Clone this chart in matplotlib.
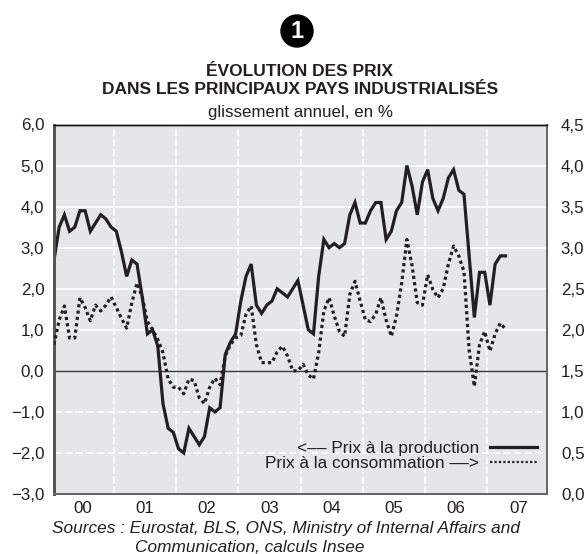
import numpy as np
import matplotlib
matplotlib.use('Agg')
import matplotlib.pyplot as plt
from matplotlib.lines import Line2D
from matplotlib.patches import Circle
from matplotlib.transforms import IdentityTransform

plt.rcParams['font.family'] = ['Liberation Sans', 'DejaVu Sans']

# monthly from jan 2000
months = np.arange(88)
year_labels = ['00', '01', '02', '03', '04', '05', '06', '07']
left_ticks = [6, 5, 4, 3, 2, 1, 0, -1, -2, -3]
left_labels = ['6,0', '5,0', '4,0', '3,0', '2,0', '1,0', '0,0', '\u22121,0', '\u22122,0', '\u22123,0']
right_ticks = [4.5, 4, 3.5, 3, 2.5, 2, 1.5, 1, 0.5, 0]
right_labels = ['4,5', '4,0', '3,5', '3,0', '2,5', '2,0', '1,5', '1,0', '0,5', '0,0']

# left axis
prod = [2.7, 3.5, 3.8, 3.4, 3.5, 3.9, 3.9, 3.4, 3.6, 3.8, 3.7, 3.5,
        3.4, 2.9, 2.3, 2.7, 2.6, 1.8, 0.9, 1.0, 0.6, -0.8, -1.4, -1.5,
        -1.9, -2.0, -1.4, -1.6, -1.8, -1.6, -0.9, -1.0, -0.9, 0.4, 0.7, 0.9,
        1.7, 2.3, 2.6, 1.6, 1.4, 1.6, 1.7, 2.0, 1.9, 1.8, 2.0, 2.2,
        1.6, 1.0, 0.9, 2.3, 3.2, 3.0, 3.1, 3.0, 3.1, 3.8, 4.1, 3.6,
        3.6, 3.9, 4.1, 4.1, 3.2, 3.4, 3.9, 4.1, 5.0, 4.5, 3.8, 4.6,
        4.9, 4.2, 3.9, 4.2, 4.7, 4.9, 4.4, 4.3, 2.8, 1.3, 2.4, 2.4,
        1.6, 2.6, 2.8, 2.8]
# right axis
conso = [1.82, 2.12, 2.29, 1.9, 1.9, 2.39, 2.27, 2.11, 2.3, 2.23, 2.3, 2.4,
         2.27, 2.14, 2.02, 2.33, 2.57, 2.4, 2.1, 2.0, 1.88, 1.72, 1.4, 1.3,
         1.3, 1.22, 1.4, 1.38, 1.17, 1.1, 1.3, 1.41, 1.33, 1.68, 1.82, 1.9,
         1.93, 2.19, 2.29, 1.82, 1.6, 1.6, 1.6, 1.73, 1.8, 1.68, 1.5, 1.5,
         1.58, 1.45, 1.4, 1.72, 2.23, 2.39, 2.17, 1.98, 1.92, 2.43, 2.59, 2.35,
         2.12, 2.1, 2.19, 2.39, 2.12, 1.92, 2.17, 2.57, 3.1, 2.78, 2.33, 2.3,
         2.67, 2.49, 2.39, 2.5, 2.8, 3.02, 2.9, 2.71, 1.75, 1.31, 1.82, 1.98,
         1.74, 1.95, 2.08, 2.01]

W, H = 587, 554
dark = '#231f20'
tick_size = 12.2

fig = plt.figure(figsize=(W / 100, H / 100), dpi=100)
ax = fig.add_axes([54 / W, 1 - 494 / H, (547 - 54) / W, (494 - 124.5) / H])
ax2 = ax.twinx()

ax.set_facecolor('#e5e6e8')
ax.set_xlim(0, 95)
ax.set_ylim(-3, 6)
ax2.set_ylim(0, 4.5)

for y in left_ticks:
    if y < 0:
        ax.axhline(y, color='white', lw=1.1, ls=(0, (5, 2)), zorder=1)
    elif y > 0:
        ax.axhline(y, color='white', lw=1.1, zorder=1)
for i in range(1, 8):
    ax.axvline(12 * i - 0.5, color='white', lw=1.1, ls=(0, (5, 1.5)), zorder=1)
ax.axhline(0, color='#3a3a3a', lw=1.0, zorder=2)

line1, = ax.plot(months, prod, color=dark, lw=2.3, solid_joinstyle='miter', zorder=3)
line2, = ax2.plot(months, conso, color=dark, lw=2.3, ls=(0, (1, 1)), zorder=3)

ax.set_yticks(left_ticks)
ax.set_yticklabels(left_labels, fontsize=tick_size, color=dark)
ax.tick_params(axis='y', length=0, pad=7)
ax2.set_yticks(right_ticks)
ax2.set_yticklabels(right_labels, fontsize=tick_size, color=dark)
ax2.tick_params(axis='y', length=0, pad=10)

ax.set_xticks([12 * i + 5.5 for i in range(8)])
ax.set_xticklabels(year_labels, fontsize=tick_size, color=dark)
ax.tick_params(axis='x', length=0, pad=5)

for a in (ax, ax2):
    a.spines['top'].set_color('#111111')
    a.spines['top'].set_linewidth(1.0)
    a.spines['left'].set_color('#555555')
    a.spines['left'].set_linewidth(2.0)
    a.spines['right'].set_color('#666666')
    a.spines['right'].set_linewidth(1.2)
    a.spines['bottom'].set_color('#666666')
    a.spines['bottom'].set_linewidth(1.4)

# dotted key is finer than the curve itself
key2 = Line2D([], [], color=dark, lw=1.6, ls=(0, (1, 1)))
ax2.legend([line1, key2],
           ['<\u2013\u2013 Prix \u00e0 la production', 'Prix \u00e0 la consommation \u2013\u2013>'],
           markerfirst=False, frameon=False, loc='lower right',
           bbox_to_anchor=(0.98, 0.061), borderaxespad=0, fontsize=12.4,
           labelspacing=0.05, handlelength=2.75, handletextpad=0.6,
           labelcolor=dark, borderpad=0)

# numbered badge
fig.add_artist(Circle((297, H - 31), 16, color='black', transform=IdentityTransform()))
fig.text(297 / W, 1 - 31 / H, '1', color='white', fontsize=17, ha='center', va='center', fontweight='bold')

fig.text(300 / W, 1 - 72 / H, '\u00c9VOLUTION DES PRIX', fontsize=12.5, fontweight='bold',
         ha='center', va='center', color=dark)
fig.text(300 / W, 1 - 90 / H, 'DANS LES PRINCIPAUX PAYS INDUSTRIALIS\u00c9S', fontsize=12.5, fontweight='bold',
         ha='center', va='center', color=dark)
fig.text(300 / W, 1 - 113 / H, 'glissement annuel, en %', fontsize=12.2,
         ha='center', va='center', color=dark)

fig.text(286 / W, 1 - 529 / H, 'Sources : Eurostat, BLS, ONS, Ministry of Internal Affairs and',
         fontsize=12.4, style='italic', ha='center', va='center', color=dark)
fig.text(250 / W, 1 - 548 / H, 'Communication, calculs Insee',
         fontsize=12.4, style='italic', ha='center', va='center', color=dark)

fig.savefig('out.png', dpi=100)
